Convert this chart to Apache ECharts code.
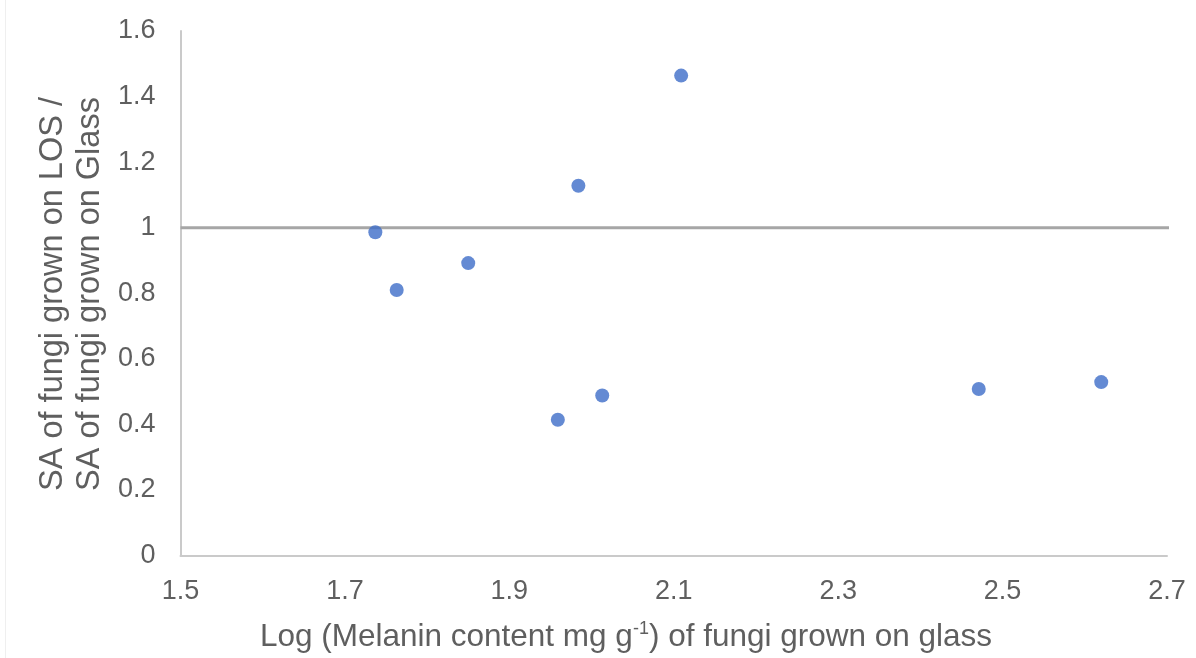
<!DOCTYPE html>
<html>
<head>
<meta charset="utf-8">
<script src="https://cdn.jsdelivr.net/npm/echarts@6/dist/echarts.min.js"></script>
<style>
  html, body { margin: 0; padding: 0; background: #ffffff; }
  #chart { width: 1196px; height: 658px; }
</style>
</head>
<body>
<div id="chart"></div>
<script>
// Log melanin content (x) vs surface-area ratio LOS/Glass (y), one point per fungus
const logMelanin = [1.737, 1.763, 1.850, 1.959, 1.984, 2.013, 2.109, 2.471, 2.620];
const saRatio    = [0.986, 0.810, 0.892, 0.414, 1.128, 0.488, 1.464, 0.508, 0.529];

// Reference ratio of 1 (equal growth on both surfaces)
const refLineX = [1.5, 2.76];
const refLineY = [1, 1];

const xTicks = { min: 1.5, max: 2.7, interval: 0.2 };
const yTicks = { min: 0, max: 1.6, interval: 0.2 };

const xTitle = 'Log (Melanin content mg g{sup|-1}) of fungi grown on glass';
const yTitleLines = ['SA of fungi grown on LOS /', 'SA of fungi grown on Glass'];

const FONT = '"Liberation Sans", Arial, sans-serif';
const TEXT_GREY = '#5f5f5f';

const chart = echarts.init(document.getElementById('chart'), null, { renderer: 'canvas' });

chart.setOption({
  backgroundColor: '#ffffff',
  animation: false,
  grid: { left: 180.5, right: 29, top: 31, bottom: 102.5, containLabel: false },
  xAxis: {
    type: 'value',
    min: xTicks.min, max: xTicks.max, interval: xTicks.interval,
    axisLine: { show: true, onZero: false, lineStyle: { color: '#cacaca', width: 2 } },
    axisTick: { show: false },
    splitLine: { show: false },
    axisLabel: {
      color: TEXT_GREY, fontFamily: FONT, fontSize: 27, margin: 23,
      formatter: v => v.toFixed(1)
    }
  },
  yAxis: {
    type: 'value',
    min: yTicks.min, max: yTicks.max, interval: yTicks.interval,
    axisLine: { show: true, lineStyle: { color: '#cacaca', width: 2 } },
    axisTick: { show: false },
    splitLine: { show: false },
    axisLabel: {
      color: TEXT_GREY, fontFamily: FONT, fontSize: 27, margin: 25,
      formatter: v => (v === 0 || v === 1) ? String(v) : v.toFixed(1)
    }
  },
  series: [
    {
      type: 'line',
      data: refLineX.map((x, i) => [x, refLineY[i]]),
      clip: false,
      symbol: 'none',
      lineStyle: { color: '#a6a6a6', width: 3 },
      silent: true,
      z: 1
    },
    {
      type: 'scatter',
      data: logMelanin.map((x, i) => [x, saRatio[i]]),
      symbol: 'circle',
      symbolSize: 14,
      itemStyle: { color: '#3d6dc8' },
      z: 3
    }
  ],
  graphic: [
    {
      type: 'line',
      shape: { x1: 5.5, y1: 0, x2: 5.5, y2: 658 },
      style: { stroke: '#efefef', lineWidth: 1 },
      silent: true
    },
    {
      type: 'text',
      x: 626, y: 637,
      style: {
        text: xTitle,
        fill: TEXT_GREY,
        font: '31.5px ' + FONT,
        textAlign: 'center',
        textVerticalAlign: 'middle',
        rich: {
          sup: { fontSize: 18, fill: TEXT_GREY, fontFamily: FONT, verticalAlign: 'top', padding: [0, 0, 15, 0] }
        }
      }
    },
    {
      type: 'text',
      x: 71.5, y: 294,
      rotation: Math.PI / 2,
      style: {
        text: yTitleLines.join('\n'),
        fill: TEXT_GREY,
        font: '32.5px ' + FONT,
        lineHeight: 37,
        textAlign: 'center',
        textVerticalAlign: 'middle'
      }
    }
  ]
});
</script>
</body>
</html>
